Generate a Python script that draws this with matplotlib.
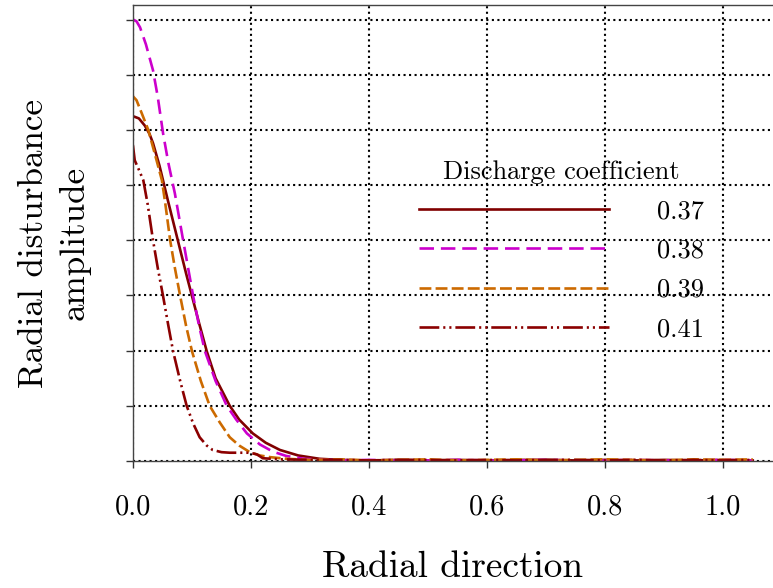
import matplotlib
matplotlib.use("Agg")
import matplotlib.pyplot as plt

plt.rcParams['font.family'] = 'serif'
plt.rcParams['font.serif'] = ['cmr10']
plt.rcParams['axes.formatter.use_mathtext'] = True
plt.rcParams['mathtext.fontset'] = 'cm'

# values
tail_x = [0.35, 0.4, 0.45, 0.5, 0.55, 0.6, 0.65, 0.7, 0.75, 0.8, 0.85, 0.9, 0.95, 1.0, 1.05]

x37 = [0.0, 0.01, 0.02, 0.028, 0.034, 0.045, 0.059, 0.076, 0.09, 0.1, 0.112, 0.125, 0.14,
       0.164, 0.18, 0.203, 0.225, 0.249, 0.28, 0.316] + tail_x
y37 = [6.25, 6.21, 6.08, 5.93, 5.76, 5.35, 4.73, 4.0, 3.4, 2.99, 2.5, 1.99, 1.5,
       1.0, 0.75, 0.5, 0.33, 0.2, 0.1, 0.04,
       0.02, 0.01, 0.02, 0.01, 0.02, 0.01, 0.02, 0.02, 0.01, 0.02, 0.01, 0.02, 0.01, 0.02, 0.01]

x38 = [0.0, 0.006, 0.012, 0.022, 0.034, 0.042, 0.051, 0.06, 0.071, 0.085, 0.102, 0.112,
       0.122, 0.14, 0.159, 0.175, 0.193, 0.215, 0.237, 0.26, 0.29, 0.33] + tail_x
y38 = [8.0, 7.97, 7.86, 7.55, 7.08, 6.6, 5.94, 5.4, 4.85, 4.0, 2.99, 2.45,
       1.99, 1.45, 1.0, 0.75, 0.5, 0.3, 0.17, 0.09, 0.04, 0.02,
       0.01, 0.02, 0.01, 0.01, 0.02, 0.01, 0.01, 0.02, 0.01, 0.01, 0.02, 0.01, 0.01, 0.02, 0.01]

x39 = [0.0, 0.006, 0.015, 0.026, 0.04, 0.049, 0.055, 0.063, 0.071, 0.08, 0.09, 0.1,
       0.115, 0.13, 0.147, 0.164, 0.18, 0.198, 0.215, 0.232, 0.26, 0.3] + tail_x
y39 = [6.61, 6.54, 6.3, 6.0, 5.45, 5.09, 4.65, 4.0, 3.5, 2.99, 2.45, 1.99,
       1.45, 1.0, 0.7, 0.43, 0.28, 0.16, 0.1, 0.07, 0.04, 0.02,
       0.03, 0.01, 0.02, 0.03, 0.01, 0.02, 0.03, 0.01, 0.02, 0.03, 0.02, 0.01, 0.03, 0.02, 0.03]

x41 = [0.0, 0.003, 0.01, 0.0175, 0.025, 0.034, 0.042, 0.051, 0.06, 0.068, 0.08, 0.091,
       0.102, 0.113, 0.125, 0.135, 0.15, 0.164, 0.198, 0.21, 0.22, 0.25, 0.3] + tail_x
y41 = [5.72, 5.45, 5.28, 5.09, 4.65, 4.0, 3.5, 2.99, 2.45, 1.99, 1.45, 1.0,
       0.68, 0.43, 0.28, 0.2, 0.16, 0.15, 0.15, 0.12, 0.05, 0.03, 0.02,
       0.02, 0.01, 0.02, 0.02, 0.01, 0.02, 0.01, 0.02, 0.02, 0.01, 0.02, 0.01, 0.02, 0.01, 0.02]

labels = ['0.37', '0.38', '0.39', '0.41']
x_ticks = [0.0, 0.2, 0.4, 0.6, 0.8, 1.0]
y_ticks = [0, 1, 2, 3, 4, 5, 6, 7, 8]

fig = plt.figure(figsize=(7.73, 5.88), dpi=100)
ax = fig.add_axes([0.172, 0.216, 0.827, 0.775])

lw = 1.9
ax.plot(x37, y37, color='#800000', lw=lw, label=labels[0])
ax.plot(x38, y38, color='#cc00cc', lw=lw, dashes=(5.5, 2.6), label=labels[1])
ax.plot(x39, y39, color='#cc6a00', lw=lw, dashes=(4.5, 1.6), label=labels[2])
ax.plot(x41, y41, color='#8b0000', lw=lw, dashes=(7.5, 1.5, 0.8, 1.5, 0.8, 1.5), label=labels[3])

ax.set_xlim(0, 1.083)
ax.set_ylim(0, 8.26)
ax.set_xticks(x_ticks)
ax.set_xticklabels(['%.1f' % v for v in x_ticks])
ax.set_yticks(y_ticks)
ax.set_yticklabels([])
ax.tick_params(direction='out', length=5, width=1, labelsize=20.5, pad=19, color='#333333')
ax.grid(True, color='black', linestyle=':', linewidth=1.5)
for s in ax.spines.values():
    s.set_color('#444444')
    s.set_linewidth(1)
ax.spines['right'].set_visible(False)

ax.set_xlabel('Radial direction', fontsize=26.8, labelpad=22)
ax.set_ylabel('Radial disturbance\namplitude', fontsize=25.3, linespacing=1.35)
ax.yaxis.set_label_coords(-0.066, 0.478)

leg = ax.legend(loc='upper left', bbox_to_anchor=(0.448, 0.66), frameon=False,
                fontsize=19, title='Discharge coefficient', title_fontsize=19,
                handlelength=7.2, handletextpad=1.8, labelspacing=0.59,
                borderpad=0, borderaxespad=0)

fig.savefig('out.png', dpi=100)
